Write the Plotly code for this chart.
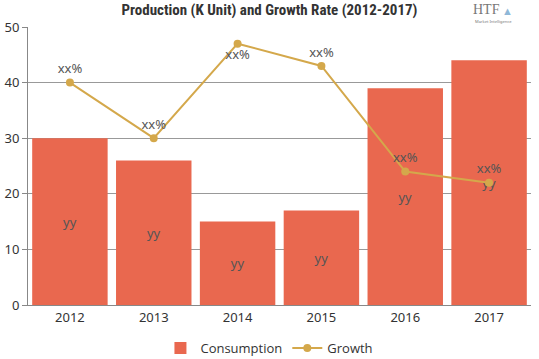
import plotly.graph_objects as go

years = ["2012", "2013", "2014", "2015", "2016", "2017"]
consumption = [30, 26, 15, 17, 39, 44]
growth = [40, 30, 47, 43, 24, 22]
bar_labels = ["yy"] * 6
line_labels = ["xx%"] * 6
line_label_pos = ["top center", "top center", "bottom center", "top center", "top center", "top center"]

bar_color = "#E9684F"
line_color = "#D4A84B"

fig = go.Figure()
fig.add_trace(go.Bar(
    x=years, y=consumption, name="Consumption",
    marker=dict(color=bar_color, line=dict(width=0)),
    text=bar_labels, textposition="inside", insidetextanchor="middle",
    textfont=dict(color="#555555", size=13, family="Noto Sans"),
    cliponaxis=False,
))
fig.add_trace(go.Scatter(
    x=years, y=growth, name="Growth", mode="lines+markers+text",
    line=dict(color=line_color, width=2),
    marker=dict(color=line_color, size=8),
    text=line_labels, textposition=line_label_pos,
    textfont=dict(color="#555555", size=13, family="Noto Sans"),
    cliponaxis=False,
))

PLOT_H = 278.0
PLOT_W = 503.0

fig.update_layout(
    width=539, height=359,
    margin=dict(l=28, r=8, t=27, b=54, autoexpand=False),
    plot_bgcolor="white", paper_bgcolor="white",
    bargap=0.1,
    showlegend=True,
    legend=dict(orientation="h", x=0.48, xanchor="center", y=(305 - 348) / PLOT_H, yanchor="middle",
                font=dict(family="Open Sans, sans-serif", size=13, color="#333333"),
                itemwidth=30),
    font=dict(family="Noto Sans", color="#333333"),
    title=dict(text="<b>Production (K Unit) and Growth Rate (2012-2017)</b>",
               x=0.5, xanchor="center", y=1 - 10 / 359, yanchor="middle",
               font=dict(family="Roboto Condensed, DejaVu Sans Condensed, Liberation Sans Narrow, sans-serif",
                         size=15, color="#333333")),
    xaxis=dict(showline=True, linecolor="#888888", linewidth=1, ticks="", automargin=False,
               tickfont=dict(size=13, color="#333333")),
    yaxis=dict(range=[0, 50], dtick=10, showgrid=True, gridcolor="#999999", gridwidth=1,
               showline=True, linecolor="#888888", linewidth=1, automargin=False,
               ticks="outside", ticklen=5, tickcolor="#888888",
               tickfont=dict(size=13, color="#333333"), zeroline=False),
    annotations=[
        dict(text="HTF", x=(486 - 28) / PLOT_W, y=(305 - 10) / PLOT_H, xref="paper", yref="paper",
             showarrow=False, xanchor="center", yanchor="middle",
             font=dict(size=14, color="#777777", family="Liberation Serif")),
        dict(text="▲", x=(507 - 28) / PLOT_W, y=(305 - 11) / PLOT_H, xref="paper", yref="paper",
             showarrow=False, xanchor="center", yanchor="middle",
             font=dict(size=11, color="#8FB8D8")),
        dict(text="Market Intelligence", x=(493 - 28) / PLOT_W, y=(305 - 22) / PLOT_H, xref="paper", yref="paper",
             showarrow=False, xanchor="center", yanchor="middle",
             font=dict(size=4, color="#777777")),
    ],
)

fig.write_html("out.html", config={"displayModeBar": False},
               post_script="document.body.style.margin='0';")
